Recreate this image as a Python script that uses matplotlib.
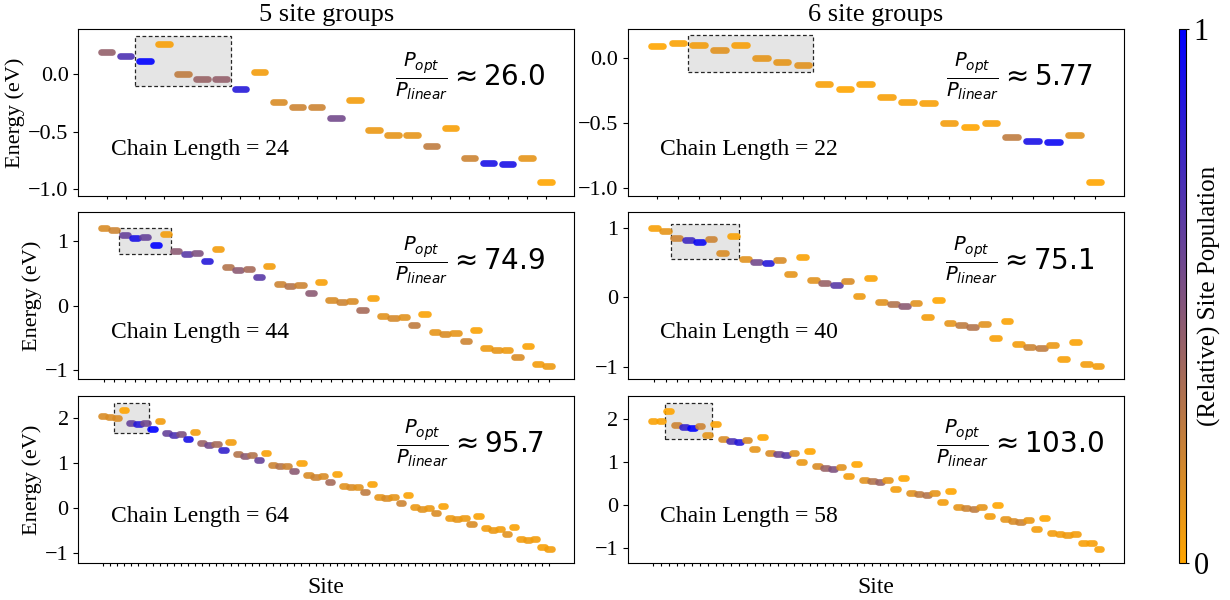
import numpy as np
import matplotlib
matplotlib.use('Agg')
import matplotlib.pyplot as plt
from matplotlib.colors import LinearSegmentedColormap, Normalize
from matplotlib.patches import Rectangle
import matplotlib.cm as cm

plt.rcParams['font.family'] = 'serif'
plt.rcParams['font.serif'] = ['Liberation Serif', 'DejaVu Serif']
plt.rcParams['mathtext.fontset'] = 'dejavusans'

# site energies (eV) and relative site population
# 5 site groups
energy_24 = [0.19, 0.157, 0.11, 0.26, 0.0, -0.04, -0.046, -0.13, 0.017, -0.243, -0.284, -0.29,
             -0.38, -0.226, -0.487, -0.528, -0.533, -0.623, -0.47, -0.73, -0.77, -0.777, -0.725, -0.937]
pop_24 = [0.42, 0.7, 1.0, 0.03, 0.25, 0.4, 0.42, 0.85, 0.05, 0.15, 0.2, 0.2,
          0.55, 0.05, 0.08, 0.1, 0.1, 0.25, 0.03, 0.2, 0.9, 0.9, 0.1, 0.0]

energy_44 = [1.195, 1.164, 1.077, 1.036, 1.051, 0.934, 1.103, 0.831, 0.79, 0.805, 0.682, 0.862,
             0.585, 0.549, 0.564, 0.436, 0.605, 0.333, 0.297, 0.308, 0.19, 0.359, 0.092, 0.051,
             0.062, -0.062, 0.113, -0.154, -0.195, -0.179, -0.297, -0.128, -0.4, -0.436, -0.426,
             -0.549, -0.379, -0.651, -0.692, -0.677, -0.795, -0.626, -0.903, -0.928]
pop_44 = [0.15, 0.2, 0.6, 0.9, 0.6, 1.0, 0.05, 0.45, 0.65, 0.5, 0.85, 0.05,
          0.3, 0.45, 0.35, 0.65, 0.05, 0.2, 0.3, 0.2, 0.45, 0.03, 0.15, 0.2,
          0.15, 0.35, 0.03, 0.12, 0.17, 0.12, 0.25, 0.02, 0.1, 0.15, 0.1,
          0.2, 0.02, 0.07, 0.1, 0.07, 0.15, 0.02, 0.05, 0.07]

energy_64 = [2.052, 2.015, 1.993, 2.17, 1.896, 1.867, 1.881, 1.756, 1.926, 1.667, 1.63, 1.652,
             1.526, 1.689, 1.437, 1.4, 1.422, 1.289, 1.459, 1.2, 1.156, 1.178, 1.059, 1.23,
             0.963, 0.926, 0.941, 0.822, 0.993, 0.726, 0.696, 0.711, 0.585, 0.756, 0.489, 0.459,
             0.474, 0.356, 0.526, 0.252, 0.222, 0.237, 0.119, 0.289, 0.022, -0.015, 0.0, -0.119,
             0.052, -0.215, -0.252, -0.23, -0.348, -0.185, -0.452, -0.482, -0.459, -0.585,
             -0.415, -0.681, -0.719, -0.696, -0.874, -0.911]
pop_64 = [0.15, 0.15, 0.15, 0.0, 0.6, 0.85, 0.55, 1.0, 0.05, 0.6, 0.7, 0.5,
          0.9, 0.05, 0.4, 0.55, 0.35, 0.8, 0.05, 0.3, 0.45, 0.3, 0.6, 0.03,
          0.2, 0.3, 0.2, 0.45, 0.02, 0.15, 0.2, 0.15, 0.35, 0.02, 0.12, 0.15,
          0.12, 0.25, 0.02, 0.1, 0.15, 0.1, 0.2, 0.02, 0.08, 0.12, 0.08, 0.15,
          0.02, 0.07, 0.1, 0.07, 0.15, 0.02, 0.05, 0.08, 0.05, 0.12,
          0.02, 0.05, 0.07, 0.05, 0.03, 0.05]

# 6 site groups
energy_22 = [0.095, 0.113, 0.097, 0.064, 0.097, -0.003, -0.033, -0.051, -0.2, -0.236, -0.203,
             -0.303, -0.336, -0.349, -0.5, -0.533, -0.5, -0.603, -0.636, -0.646, -0.592, -0.95]
pop_22 = [0.0, 0.02, 0.05, 0.12, 0.03, 0.1, 0.1, 0.12, 0.03, 0.0, 0.02,
          0.03, 0.03, 0.03, 0.05, 0.0, 0.03, 0.25, 0.9, 0.95, 0.12, 0.0]

energy_40 = [1.002, 0.954, 0.863, 0.82, 0.796, 0.839, 0.638, 0.887, 0.556, 0.513, 0.489, 0.537,
             0.331, 0.58, 0.249, 0.206, 0.182, 0.23, 0.024, 0.278, -0.058, -0.096, -0.12, -0.077,
             -0.283, -0.034, -0.365, -0.403, -0.427, -0.384, -0.585, -0.336, -0.667, -0.71,
             -0.729, -0.686, -0.892, -0.643, -0.964, -0.983]
pop_40 = [0.03, 0.1, 0.2, 0.75, 0.95, 0.2, 0.15, 0.02, 0.12, 0.55, 0.85, 0.15,
          0.1, 0.02, 0.12, 0.4, 0.65, 0.15, 0.07, 0.02, 0.12, 0.3, 0.45, 0.12,
          0.05, 0.0, 0.1, 0.25, 0.3, 0.12, 0.03, 0.02, 0.05, 0.2,
          0.25, 0.08, 0.03, 0.02, 0.05, 0.05]

energy_58 = [1.946, 1.961, 2.194, 1.853, 1.814, 1.791, 1.837, 1.62, 1.884, 1.535, 1.496, 1.473,
             1.512, 1.31, 1.574, 1.217, 1.186, 1.163, 1.209, 1.0, 1.256, 0.9, 0.868, 0.845,
             0.891, 0.682, 0.946, 0.589, 0.558, 0.543, 0.581, 0.372, 0.628, 0.271, 0.248, 0.225,
             0.271, 0.062, 0.326, -0.039, -0.062, -0.085, -0.047, -0.248, 0.008, -0.333, -0.364,
             -0.388, -0.349, -0.558, -0.302, -0.659, -0.682, -0.705, -0.667, -0.876, -0.891, -1.016]
pop_58 = [0.02, 0.02, 0.0, 0.2, 0.8, 1.0, 0.2, 0.1, 0.02, 0.15, 0.7, 0.85,
          0.15, 0.1, 0.0, 0.15, 0.55, 0.65, 0.12, 0.08, 0.0, 0.15, 0.4, 0.5,
          0.12, 0.05, 0.0, 0.12, 0.3, 0.4, 0.1, 0.05, 0.0, 0.12, 0.25, 0.3,
          0.1, 0.05, 0.0, 0.1, 0.2, 0.25, 0.1, 0.05, 0.0, 0.1, 0.15,
          0.2, 0.08, 0.05, 0.0, 0.05, 0.05, 0.07, 0.05, 0.03, 0.03, 0.02]

# highlighted group: first site, last site, energy range of the shaded box
box_24 = [2, 6, -0.104, 0.33]
box_44 = [2, 6, 0.795, 1.195]
box_64 = [2, 6, 1.673, 2.327]
box_22 = [2, 7, -0.105, 0.175]
box_40 = [2, 7, 0.547, 1.06]
box_58 = [2, 7, 1.527, 2.365]

ratio_24, ratio_44, ratio_64 = '26.0', '74.9', '95.7'
ratio_22, ratio_40, ratio_58 = '5.77', '75.1', '103.0'

col_titles = ['5 site groups', '6 site groups']

cmap = LinearSegmentedColormap.from_list('pop', ['orange', 'blue'])

fig, axes = plt.subplots(3, 2, figsize=(12.3, 6), dpi=100)
fig.subplots_adjust(left=0.0637, right=0.9138, top=0.9517, bottom=0.0617,
                    wspace=0.109, hspace=0.099)

panels = [
    (axes[0, 0], energy_24, pop_24, box_24, ratio_24, [-1.0, -0.5, 0.0], (-1.058, 0.391)),
    (axes[1, 0], energy_44, pop_44, box_44, ratio_44, [-1, 0, 1], (-1.138, 1.431)),
    (axes[2, 0], energy_64, pop_64, box_64, ratio_64, [-1, 0, 1, 2], (-1.222, 2.489)),
    (axes[0, 1], energy_22, pop_22, box_22, ratio_22, [-1.0, -0.5, 0.0], (-1.059, 0.223)),
    (axes[1, 1], energy_40, pop_40, box_40, ratio_40, [-1, 0, 1], (-1.18, 1.223)),
    (axes[2, 1], energy_58, pop_58, box_58, ratio_58, [-1, 0, 1, 2], (-1.349, 2.535)),
]

for ax, energy, pop, box, ratio, yt, yl in panels:
    sites = np.arange(len(energy))
    ax.hlines(energy, sites - 0.3, sites + 0.3, colors=cmap(np.array(pop)),
              lw=4.8, capstyle='round', alpha=0.9, zorder=3)
    ax.add_patch(Rectangle((box[0] - 0.5, box[2]), box[1] - box[0] + 1, box[3] - box[2],
                           facecolor=(0.83, 0.83, 0.83, 0.6), edgecolor=(0.15, 0.15, 0.15),
                           linestyle=(0, (3, 2)), lw=0.9, zorder=1))
    ax.set_xticks(sites)
    ax.set_xticklabels([])
    ax.tick_params(axis='x', length=2.5)
    ax.set_yticks(yt)
    ax.set_ylim(yl)
    ax.tick_params(axis='y', labelsize=16)
    ax.text(0.065, 0.28, 'Chain Length = %d' % len(energy), transform=ax.transAxes,
            fontsize=17, va='center', ha='left')
    ax.text(0.79, 0.715, r'$\frac{P_{opt}}{P_{linear}} \approx %s$' % ratio,
            transform=ax.transAxes, fontsize=20, va='center', ha='center')

for j in range(2):
    axes[0, j].set_title(col_titles[j], fontsize=19)
    axes[2, j].set_xlabel('Site', fontsize=17)
for i in range(3):
    axes[i, 0].set_ylabel('Energy (eV)', fontsize=16, labelpad=2)

cax = fig.add_axes([1179 / 1230, 0.0617, 7 / 1230, 0.89])
sm = cm.ScalarMappable(norm=Normalize(0, 1), cmap=cmap)
cb = fig.colorbar(sm, cax=cax, ticks=[0, 1])
cb.ax.tick_params(labelsize=22, length=2)
cb.set_label('(Relative) Site Population', fontsize=18, labelpad=-8)

fig.savefig('out.png', dpi=100)
